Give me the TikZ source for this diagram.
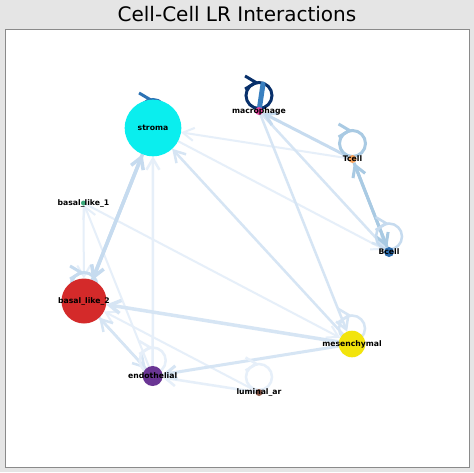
\documentclass[tikz,border=0pt]{standalone}
\usepackage{fontspec}
\setmainfont{DejaVu Sans}
\usetikzlibrary{arrows.meta,decorations.markings}

\definecolor{figbg}{HTML}{E5E5E5}
\definecolor{axframe}{HTML}{8A8A8A}
% node colours
\definecolor{cStroma}{HTML}{0AEEEE}
\definecolor{cMacro}{HTML}{E0479E}
\definecolor{cTcell}{HTML}{F5A05A}
\definecolor{cBcell}{HTML}{2B6CAE}
\definecolor{cBasalA}{HTML}{3AA87A}
\definecolor{cBasalB}{HTML}{D42A2A}
\definecolor{cMesen}{HTML}{F2E40C}
\definecolor{cEndo}{HTML}{6A3594}
\definecolor{cLumin}{HTML}{8C5A4B}
% edge colours (light to dark)
\definecolor{eFaint}{HTML}{E6EFF9}
\definecolor{eLight}{HTML}{D6E5F4}
\definecolor{eMid}{HTML}{C6DBEF}
\definecolor{eDeep}{HTML}{A9CAE3}
\definecolor{eBlue}{HTML}{2C73B5}
\definecolor{eInner}{HTML}{3A80C0}
\definecolor{eNavy}{HTML}{08306B}

\pgfdeclarelayer{back}
\pgfdeclarelayer{links}
\pgfsetlayers{back,links,main}

\begin{document}
\begin{tikzpicture}[x=1pt,y=1pt,
   vertex/.style={circle,inner sep=0pt,outer sep=0pt},
   edge/.style={draw=#1,-{Straight Barb[length=11pt,width=13pt]}},
   selfloop/.style={draw=#1,postaction={decorate},
      decoration={markings,mark=at position 0.5 with {\arrow{Straight Barb[length=11pt,width=13pt]}}}},
   every label/.style={font=\bfseries\fontsize{7.7}{9}\selectfont,inner sep=0pt}]
   \begin{pgfonlayer}{back}
      \fill[figbg] (0,0) rectangle (474,-472);
      \filldraw[fill=white,draw=axframe,line width=1pt] (5,-29) rectangle (469,-467);
   \end{pgfonlayer}
   \useasboundingbox (0,0) rectangle (474,-472);
   \node[font=\fontsize{20}{24}\selectfont,anchor=base] (title) at (237,-21.5) {Cell-Cell LR Interactions};
   % cell types; format: {name/x/y/radius/colour/label}
   \foreach \n/\x/\y/\r/\c/\t in {
      stroma/153/128/28.3/cStroma/stroma,
      macro/259/111/4/cMacro/macrophage,
      tcell/352.5/159/4/cTcell/Tcell,
      bcell/389/252/5/cBcell/Bcell,
      basalA/83.5/203/2.5/cBasalA/basal\_like\_1,
      basalB/84/301/22.5/cBasalB/basal\_like\_2,
      mesen/352/344/13.3/cMesen/mesenchymal,
      endo/152.7/376/10/cEndo/endothelial,
      lumin/259/392.5/3.5/cLumin/luminal\_ar}
      \node[vertex,fill=\c,minimum size={2*\r*1pt},label={center:\t}] (\n) at (\x,-\y) {};
   \coordinate (mtop) at (263,-84);
   \begin{pgfonlayer}{links}
      % interactions; format: {from/to/colour/width}
      \foreach \from/\to/\c/\w in {
         endo/stroma/eFaint/2.5pt, tcell/stroma/eFaint/2pt, stroma/bcell/eFaint/2pt,
         basalA/mesen/eFaint/2pt, lumin/endo/eFaint/2.5pt, lumin/basalB/eFaint/2pt,
         basalA/basalB/eFaint/2pt, endo/basalA/eFaint/2pt,
         mesen/stroma/eLight/2.5pt, macro/bcell/eLight/2.5pt, macro/mesen/eLight/2.5pt,
         mesen/endo/eLight/3pt, endo/basalB/eLight/2.5pt, basalB/endo/eLight/2.5pt,
         mesen/basalB/eLight/3.5pt, tcell/macro/eMid/3pt,
         basalB/stroma/eMid/3.5pt, stroma/basalB/eMid/3.5pt,
         tcell/bcell/eDeep/3pt, bcell/tcell/eDeep/3pt}
         \draw[edge=\c,line width=\w] (\from) -- (\to);
      % autocrine loops, drawn as a ring sitting on the node
      \foreach \n/\c/\w in {
         endo/eFaint/2.5pt, lumin/eFaint/2.5pt, mesen/eLight/2.5pt, bcell/eMid/2.5pt,
         basalB/eMid/3pt, tcell/eDeep/3pt, stroma/eBlue/3pt, macro/eNavy/3pt}
         \draw[selfloop=\c,line width=\w] (\n.center) ++(0,2.5) arc[start angle=270,end angle=-90,radius=13];
      \draw[eInner,line width=5pt,line cap=round] (macro) -- (mtop);
   \end{pgfonlayer}
\end{tikzpicture}
\end{document}
